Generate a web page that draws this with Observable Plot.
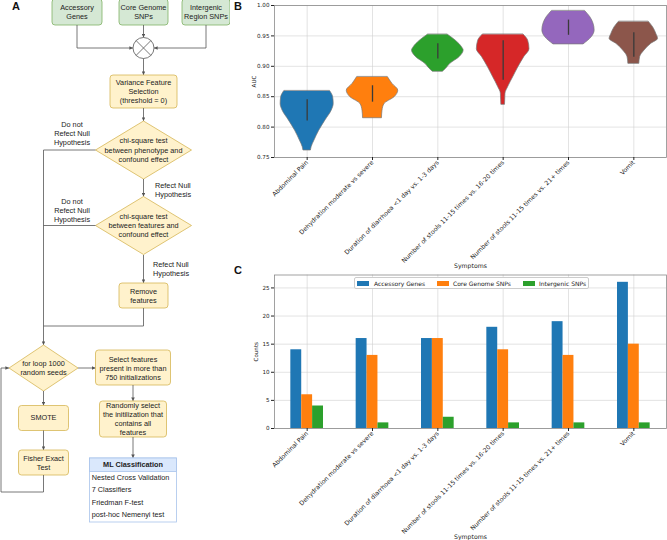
<!DOCTYPE html>
<html><head><meta charset="utf-8">
<script src="https://cdn.jsdelivr.net/npm/d3@7"></script>
<script src="https://cdn.jsdelivr.net/npm/@observablehq/plot@0.6"></script>
<style>
body{margin:0;background:#fff;}
#fig{position:relative;width:667px;height:540px;overflow:hidden;font-family:"Liberation Sans",Arial,sans-serif;background:#fff;}
.abs{position:absolute;}
.lbl{position:absolute;font-family:"Liberation Sans",Arial,sans-serif;font-weight:bold;font-size:11px;line-height:12px;color:#111;}
#legend{position:absolute;left:354px;top:277px;width:233px;height:10px;border:0.8px solid #ccc;border-radius:2px;background:#fff;font-family:"DejaVu Sans",sans-serif;font-size:6px;color:#222;}
#legend .p{position:absolute;top:3px;width:12px;height:4.5px;}
#legend .t{position:absolute;top:1.5px;line-height:7px;white-space:nowrap;}
</style></head><body><div id="fig"></div>
<script>
// ---------------- DATA ----------------
const categories = [
  "Abdominal Pain",
  "Dehydration moderate vs severe",
  "Duration of diarrhoea <1 day vs. 1-3 days",
  "Number of stools 11-15 times vs. 16-20 times",
  "Number of stools 11-15 times vs. 21+ times",
  "Vomit"
];
const violinColors = ["#1f77b4", "#ff7f0e", "#2ca02c", "#d62728", "#9467bd", "#8c564b"];
// violin outlines: [AUC, half width in category units]
const profileAbdominal = [[0.859,0.352],[0.849,0.398],[0.838,0.406],[0.827,0.375],[0.811,0.28],[0.794,0.184],[0.778,0.112],[0.767,0.068],[0.7615,0.057]];
const profileDehydration = [[0.882,0.237],[0.871,0.306],[0.860,0.394],[0.849,0.337],[0.838,0.184],[0.827,0.153],[0.8146,0.145]];
const profileDuration = [[0.952,0.153],[0.942,0.276],[0.931,0.372],[0.926,0.395],[0.915,0.332],[0.904,0.191],[0.896,0.127],[0.891,0.077]];
const profileStools1620 = [[0.952,0.314],[0.942,0.383],[0.928,0.403],[0.915,0.322],[0.898,0.23],[0.882,0.153],[0.866,0.077],[0.855,0.035],[0.844,0.031],[0.8366,0.028]];
const profileStools21 = [[0.9907,0.256],[0.981,0.332],[0.970,0.383],[0.959,0.40],[0.948,0.357],[0.936,0.23]];
const profileVomit = [[0.973,0.23],[0.964,0.296],[0.953,0.345],[0.945,0.371],[0.937,0.268],[0.926,0.164],[0.915,0.096],[0.904,0.084]];
// inner box (interquartile range) per symptom
const aucQ1 = [0.810, 0.841, 0.912, 0.877, 0.951, 0.915];
const aucQ3 = [0.845, 0.868, 0.937, 0.942, 0.976, 0.955];
const aucTicks = [0.75, 0.80, 0.85, 0.90, 0.95, 1.00];

const series = ["Accessory Genes", "Core Genome SNPs", "Intergenic SNPs"];
const seriesColors = ["#1f77b4", "#ff7f0e", "#2ca02c"];
const accessoryGenes = [14, 16, 16, 18, 19, 26];
const coreGenomeSNPs = [6, 13, 16, 14, 13, 15];
const intergenicSNPs = [4, 1, 2, 1, 1, 1];
const countTicks = [0, 5, 10, 15, 20, 25];

// ---------------- FLOWCHART (panel A) ----------------
const fig = document.getElementById("fig");
const LC = "#555";
let s = `<svg class="abs" style="left:0;top:0" width="230" height="540" xmlns="http://www.w3.org/2000/svg">
<defs><marker id="ah" viewBox="0 0 6 6" refX="6" refY="3" markerUnits="userSpaceOnUse" markerWidth="3.6" markerHeight="3.6" orient="auto"><path d="M0,0L6,3L0,6z" fill="${LC}"/></marker></defs>
<g font-family="Liberation Sans, Arial, sans-serif" font-size="7.3" fill="#222">`;
const G = ["#d5e8d4", "#82b366"], Y = ["#fff2cc", "#d6b656"];
function box(x, y, w, h, c, lines, ys) {
  s += `<rect x="${x}" y="${y}" width="${w}" height="${h}" rx="3" fill="${c[0]}" stroke="${c[1]}" stroke-width="0.8"/>`;
  lines.forEach((t, k) => txt(x + w / 2, ys[k], t));
}
function txt(x, y, t, anchor = "middle", extra = "") {
  t = t.replace(/&/g, "&amp;").replace(/</g, "&lt;");
  s += `<text x="${x}" y="${y}" text-anchor="${anchor}" dominant-baseline="central" ${extra}>${t}</text>`;
}
function path(pts, arrow = true) {
  s += `<path d="M${pts.map(p => p.join(",")).join("L")}" fill="none" stroke="${LC}" stroke-width="0.8" ${arrow ? 'marker-end="url(#ah)"' : ""}/>`;
}
function diamond(cx, cy, hw, hh, lines, ys) {
  s += `<path d="M${cx},${cy - hh}L${cx + hw},${cy}L${cx},${cy + hh}L${cx - hw},${cy}Z" fill="${Y[0]}" stroke="${Y[1]}" stroke-width="0.8"/>`;
  lines.forEach((t, k) => txt(cx, ys[k], t));
}
// inputs
box(52, -1, 50, 26, G, ["Accessory", "Genes"], [7.7, 16.7]);
box(119, -1, 49, 26, G, ["Core Genome", "SNPs"], [7.7, 16.7]);
box(182, -1, 48, 26, G, ["Intergenic", "Region SNPs"], [7.7, 16.7]);
path([[77, 25], [77, 48], [133, 48]]);
path([[143.5, 25], [143.5, 37.5]]);
path([[206, 25], [206, 48], [154, 48]]);
s += `<circle cx="143.5" cy="48" r="10.5" fill="#fff" stroke="${LC}" stroke-width="0.8"/>`;
s += `<path d="M136.1,40.6L150.9,55.4M150.9,40.6L136.1,55.4" stroke="${LC}" stroke-width="0.8"/>`;
path([[143.5, 58.5], [143.5, 75]]);
box(110, 75, 67, 33, Y, ["Variance Feature", "Selection", "(threshold = 0)"], [82, 91.5, 100.5]);
path([[143.5, 108], [143.5, 121]]);
diamond(143.5, 150, 48, 29, ["chi-square test", "between phenotype and", "confound effect"], [140.5, 150, 159]);
["Do not", "Refect Null", "Hypothesis"].forEach((t, k) => txt(72, 124.3 + 9 * k, t));
path([[95.5, 150], [43.5, 150], [43.5, 345]]);
path([[143.5, 179], [143.5, 196.5]]);
txt(155, 185, "Refect Null", "start"); txt(155, 194, "Hypothesis", "start");
diamond(143.5, 225.5, 48, 29, ["chi-square test", "between features and", "confound effect"], [216, 225.3, 234]);
["Do not", "Refect Null", "Hypothesis"].forEach((t, k) => txt(72, 201.3 + 9 * k, t));
path([[95.5, 225.5], [43.5, 225.5]], false);
path([[143.5, 255], [143.5, 283]]);
txt(153, 264.3, "Refect Null", "start"); txt(153, 273.3, "Hypothesis", "start");
box(119, 283, 49, 25, Y, ["Remove", "features"], [291.3, 300.3]);
path([[143.5, 308], [143.5, 326], [43.5, 326]], false);
diamond(43.5, 368, 34.5, 23, ["for loop 1000", "random seeds"], [363.5, 372.5]);
path([[78, 368], [95.5, 368]]);
box(95.5, 350, 75, 35, Y, ["Select features", "present in more than", "750 initializations"], [359, 368, 377]);
path([[133, 385], [133, 401]]);
box(99.5, 401, 67, 36, Y, ["Randomly select", "the initilization that", "contains all", "features"], [405.5, 414.5, 423.3, 432.3]);
path([[133, 437], [133, 458]]);
// ML classification table
s += `<rect x="89.5" y="458" width="87" height="64" fill="#fff" stroke="#a9c4eb" stroke-width="0.8"/>`;
s += `<rect x="89.5" y="458" width="87" height="13.5" fill="#dae8fc" stroke="#a9c4eb" stroke-width="0.8"/>`;
txt(133, 464.8, "ML Classification", "middle", 'font-weight="bold"');
["Nested Cross Validation", "7 Classifiers", "Friedman F-test", "post-hoc Nemenyi test"].forEach((t, k) => txt(91.7, 477 + 12.55 * k, t, "start"));
path([[43.5, 391], [43.5, 405.5]]);
box(18.5, 405.5, 50, 25, Y, ["SMOTE"], [417.8]);
path([[43.5, 430.5], [43.5, 450]]);
box(18.5, 450, 50, 25, Y, ["Fisher Exact", "Test"], [458, 467]);
path([[43.5, 475], [43.5, 492], [1, 492], [1, 368], [9, 368]]);
s += `</g></svg>`;
fig.insertAdjacentHTML("beforeend", s);

// panel letters
[["A", 12, 0], ["B", 234, 0], ["C", 234, 264]].forEach(([t, x, y]) => {
  const d = document.createElement("div");
  d.className = "lbl"; d.textContent = t; d.style.left = x + "px"; d.style.top = y + "px";
  fig.appendChild(d);
});

// ---------------- PANEL B: violins ----------------
const xIdx = d3.range(categories.length);
const profiles = [profileAbdominal, profileDehydration, profileDuration, profileStools1620, profileStools21, profileVomit];
const violinRows = categories.flatMap((c, i) => profiles[i].map(([auc, w]) => ({cat: c, i, auc, w})));
const boxRows = categories.map((c, i) => ({cat: c, i, q1: aucQ1[i], q3: aucQ3[i]}));
const gridStyle = {stroke: "#d0d0d0", strokeOpacity: 1, strokeWidth: 0.6};

const plotB = Plot.plot({
  width: 442, height: 270,
  marginLeft: 49, marginRight: 1, marginTop: 5, marginBottom: 113,
  style: {fontFamily: "DejaVu Sans", fontSize: "5.6px", color: "#222", background: "transparent", overflow: "visible"},
  x: {domain: [-0.5, 5.5]},
  y: {domain: [0.75, 1.0]},
  color: {domain: categories, range: violinColors},
  marks: [
    Plot.gridY(aucTicks, gridStyle),
    Plot.gridX(xIdx, gridStyle),
    Plot.areaX(violinRows, {y: "auc", x1: d => d.i - d.w, x2: d => d.i + d.w, z: "cat", fill: "cat", stroke: "#777", strokeWidth: 0.7, curve: "monotone-y"}),
    Plot.ruleX(boxRows, {x: "i", y1: "q1", y2: "q3", stroke: "#3a3a3a", strokeWidth: 1.3}),
    Plot.frame({stroke: "#8a8a8a", strokeWidth: 0.8}),
    Plot.axisY(aucTicks, {tickFormat: d3.format(".2f"), tickSize: 3, tickPadding: 2, label: "AUC", labelAnchor: "center", labelArrow: "none", labelOffset: 22}),
    Plot.axisX(xIdx, {tickFormat: i => categories[i], tickRotate: -45, tickSize: 3, tickPadding: 1, fontSize: "6.2px", label: "Symptoms", labelAnchor: "center", labelArrow: "none", labelOffset: 110})
  ]
});
plotB.classList.add("abs");
plotB.style.left = "225px"; plotB.style.top = "0px";
fig.appendChild(plotB);

// ---------------- PANEL C: grouped bars ----------------
const seriesValues = [accessoryGenes, coreGenomeSNPs, intergenicSNPs];
const barRows = categories.flatMap((c, i) => series.map((sr, k) => ({i, k, series: sr, v: seriesValues[k][i]})));
const plotC = Plot.plot({
  width: 442, height: 270,
  marginLeft: 49, marginRight: 1, marginTop: 4.5, marginBottom: 112,
  style: {fontFamily: "DejaVu Sans", fontSize: "5.6px", color: "#222", background: "transparent", overflow: "visible"},
  x: {domain: [-0.5, 5.5]},
  y: {domain: [0, 27.3]},
  color: {domain: series, range: seriesColors},
  marks: [
    Plot.gridY(countTicks, gridStyle),
    Plot.gridX(xIdx, gridStyle),
    Plot.rectY(barRows, {x1: d => d.i - 0.25 + d.k / 6, x2: d => d.i - 0.25 + (d.k + 1) / 6, y: "v", fill: "series"}),
    Plot.frame({stroke: "#8a8a8a", strokeWidth: 0.8}),
    Plot.axisY(countTicks, {tickSize: 3, tickPadding: 2, label: "Counts", labelAnchor: "center", labelArrow: "none", labelOffset: 20}),
    Plot.axisX(xIdx, {tickFormat: i => categories[i], tickRotate: -45, tickSize: 3, tickPadding: 1, fontSize: "6.2px", label: "Symptoms", labelAnchor: "center", labelArrow: "none", labelOffset: 110})
  ]
});
plotC.classList.add("abs");
plotC.style.left = "225px"; plotC.style.top = "270px";
fig.appendChild(plotC);

// legend for panel C
const lg = document.createElement("div");
lg.id = "legend";
const legendPos = [[2, 19], [82, 98], [168, 184]];
series.forEach((sr, k) => {
  lg.insertAdjacentHTML("beforeend",
    `<div class="p" style="left:${legendPos[k][0]}px;background:${seriesColors[k]}"></div><div class="t" style="left:${legendPos[k][1]}px">${sr}</div>`);
});
fig.appendChild(lg);
</script></body></html>
